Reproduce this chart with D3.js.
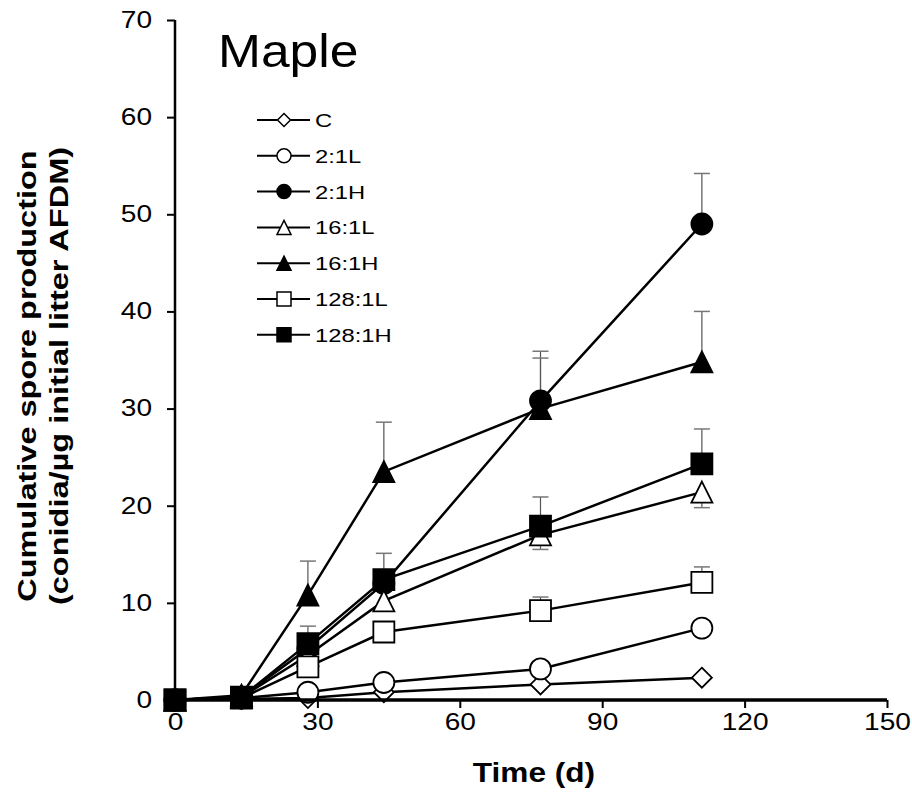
<!DOCTYPE html>
<html><head><meta charset="utf-8">
<script src="https://cdn.jsdelivr.net/npm/d3@7/dist/d3.min.js"></script>
<style>body{margin:0;background:#fff}svg{font-family:"Liberation Sans",Arial,sans-serif}</style>
</head><body><svg id="c" width="912" height="794"></svg>
<script>
const days = [0, 14, 28, 44, 77, 111];
const seriesNames = ["C", "2:1L", "2:1H", "16:1L", "16:1H", "128:1L", "128:1H"];
const valC      = [0, 0.1, 0.2, 0.8, 1.6, 2.3];
const val21L    = [0, 0.2, 0.8, 1.8, 3.2, 7.4];
const val21H    = [0, 0.3, 5.3, 12.0, 30.8, 49.0];
const val161L   = [0, 0.3, 4.6, 10.2, 17.0, 21.4];
const val161H   = [0, 0.5, 10.8, 23.5, 30.0, 34.8];
const val1281L  = [0, 0.2, 3.4, 7.0, 9.2, 12.1];
const val1281H  = [0, 0.3, 5.8, 12.4, 17.9, 24.3];
// error bar lengths (positive = drawn upward, negative = drawn downward)
const errC      = [0, 0, 0, 0, 0, 0];
const err21L    = [0, 0, 0, 0, 0, 0];
const err21H    = [0, 0, 0, 0, 5.1, 5.2];
const err161L   = [0, 0, 0, 0, -1.5, -1.6];
const err161H   = [0, 0, 3.5, 5.1, 5.2, 5.2];
const err1281L  = [0, 0, 0, 1.0, 1.4, 1.6];
const err1281H  = [0, 0, 1.8, 2.7, 3.0, 3.6];
const xTicks = [0, 30, 60, 90, 120, 150];
const yTicks = [0, 10, 20, 30, 40, 50, 60, 70];

const series = [
  {name: seriesNames[0], v: valC, e: errC, shape: "diamond", fill: "#fff"},
  {name: seriesNames[1], v: val21L, e: err21L, shape: "circle", fill: "#fff"},
  {name: seriesNames[2], v: val21H, e: err21H, shape: "circle", fill: "#000"},
  {name: seriesNames[3], v: val161L, e: err161L, shape: "triangle", fill: "#fff"},
  {name: seriesNames[4], v: val161H, e: err161H, shape: "triangle", fill: "#000"},
  {name: seriesNames[5], v: val1281L, e: err1281L, shape: "square", fill: "#fff"},
  {name: seriesNames[6], v: val1281H, e: err1281H, shape: "square", fill: "#000"}
];

const svg = d3.select("#c");
const x = d3.scaleLinear().domain([0, 150]).range([175, 887]);
const y = d3.scaleLinear().domain([0, 70]).range([700, 20]);

// widen glyphs horizontally (reference text is drawn wider than normal Arial)
function stretch(sel, k) {
  sel.each(function() {
    const w = this.getComputedTextLength();
    d3.select(this).attr("textLength", w * k).attr("lengthAdjust", "spacingAndGlyphs");
  });
}

function shapePath(shape, s) {
  const h = s / 2;
  if (shape === "diamond") return `M0,${-h}L${h},0L0,${h}L${-h},0Z`;
  if (shape === "square") return `M${-h},${-h}H${h}V${h}H${-h}Z`;
  if (shape === "triangle") return `M0,${-h}L${h},${h}L${-h},${h}Z`;
  return d3.symbol(d3.symbolCircle, Math.PI * h * h)();
}

// error bars (behind)
const eg = svg.append("g");
series.forEach(s => {
  s.v.forEach((v, i) => {
    if (!s.e[i]) return;
    const y0 = y(v), y1 = y(v + s.e[i]);
    const xc = x(days[i]);
    eg.append("line").attr("x1", xc).attr("x2", xc).attr("y1", y0).attr("y2", y1)
      .attr("stroke", "#555").attr("stroke-width", 1.2);
    eg.append("line").attr("x1", xc - 8).attr("x2", xc + 8).attr("y1", y1).attr("y2", y1)
      .attr("stroke", "#777").attr("stroke-width", 1.5);
  });
});

// lines
const line = d3.line().x((d, i) => x(days[i])).y(d => y(d));
series.forEach(s => {
  svg.append("path").attr("d", line(s.v)).attr("fill", "none")
    .attr("stroke", "#000").attr("stroke-width", 2.5);
});

// markers
series.forEach(s => {
  svg.append("g").selectAll("path").data(s.v).join("path")
    .attr("transform", (d, i) => `translate(${x(days[i])},${y(d)})`)
    .attr("d", shapePath(s.shape, s.shape === "diamond" ? 20 : 21))
    .attr("fill", s.fill).attr("stroke", "#000").attr("stroke-width", 1.8);
});

// axes
const xa = svg.append("g").attr("transform", "translate(0,700)")
  .call(d3.axisBottom(x).tickValues(xTicks).tickSize(8).tickPadding(6));
const ya = svg.append("g").attr("transform", "translate(175,0)")
  .call(d3.axisLeft(y).tickValues(yTicks).tickSize(8).tickPadding(15));
[xa, ya].forEach(a => {
  a.attr("font-size", 23).attr("font-family", "'Liberation Sans', Arial, sans-serif");
  a.selectAll("text").style("font-size", "23px").attr("fill", "#000");
  a.selectAll("line").attr("stroke", "#000").attr("stroke-width", 2);
  stretch(a.selectAll("text"), 1.22);
});
xa.select(".domain").attr("stroke", "#000").attr("stroke-width", 3.5).attr("d", "M175,0H887");
ya.select(".domain").attr("stroke", "#000").attr("stroke-width", 2.5).attr("d", "M0,20V700");

// axis titles
const xt = svg.append("text").attr("x", 534).attr("y", 782).attr("text-anchor", "middle")
  .style("font-size", "27px").attr("font-weight", "bold").text("Time (d)");
stretch(xt, 1.17);
const yt = svg.append("text")
  .attr("text-anchor", "middle").style("font-size", "25px").attr("font-weight", "bold");
yt.append("tspan").attr("x", 0).attr("y", 36).text("Cumulative spore production");
yt.append("tspan").attr("x", 0).attr("y", 68).text("(conidia/\u00b5g initial litter AFDM)");
yt.selectAll("tspan").each(function() {
  const w = this.getComputedTextLength();
  d3.select(this).attr("textLength", w * 1.3).attr("lengthAdjust", "spacingAndGlyphs");
});
yt.attr("transform", "translate(0,376) rotate(-90)");

// panel title
const mt = svg.append("text").attr("x", 218).attr("y", 67).style("font-size", "46px").text("Maple");
stretch(mt, 1.12);

// legend
const lg = svg.append("g");
series.forEach((s, i) => {
  const cy = 120 + i * 35.8;
  lg.append("line").attr("x1", 257).attr("x2", 310).attr("y1", cy).attr("y2", cy)
    .attr("stroke", "#000").attr("stroke-width", 2);
  lg.append("path").attr("transform", `translate(284,${cy})`)
    .attr("d", shapePath(s.shape, s.shape === "diamond" ? 13 : 14))
    .attr("fill", s.fill).attr("stroke", "#000").attr("stroke-width", 1.5);
  const t = lg.append("text").attr("x", 315).attr("y", cy + 7).style("font-size", "19px").text(s.name);
  stretch(t, 1.25);
});
</script></body></html>
